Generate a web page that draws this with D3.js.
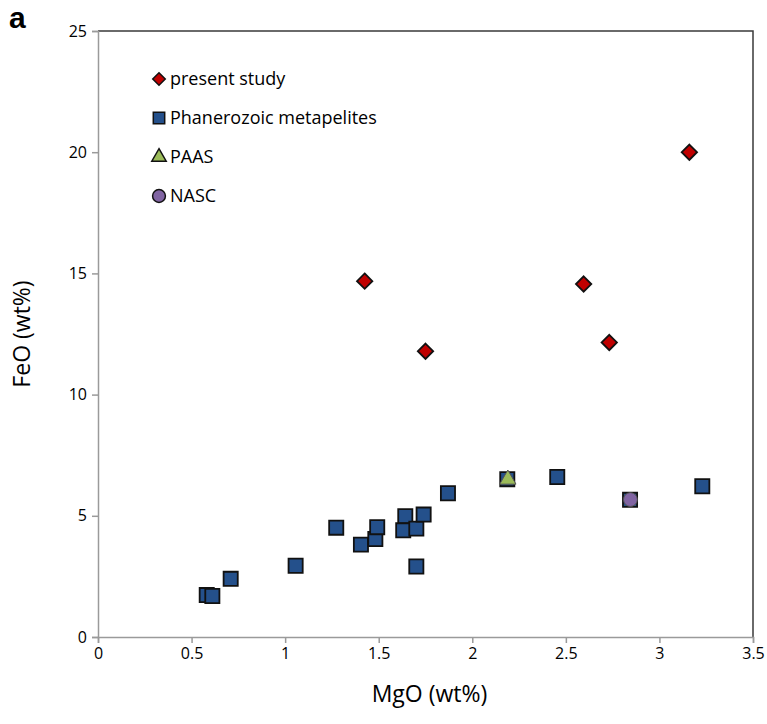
<!DOCTYPE html>
<html>
<head>
<meta charset="utf-8">
<script src="https://cdn.jsdelivr.net/npm/d3@7"></script>
<style>
  body { margin: 0; background: #fff; }
  svg text { font-family: "Open Sans", sans-serif; fill: #000; }
</style>
</head>
<body>
<div id="chart"></div>
<script>
// data
var studyMgO = [1.425, 1.75, 2.595, 2.732, 3.16];
var studyFeO = [14.68, 11.79, 14.56, 12.15, 20.0];

var phanMgO = [0.581, 0.611, 0.709, 1.056, 1.273, 1.405, 1.482, 1.492, 1.642, 1.631, 1.701, 1.740, 1.701, 1.870, 2.187, 2.454, 2.843, 3.229];
var phanFeO = [1.73, 1.69, 2.40, 2.94, 4.51, 3.81, 4.04, 4.53, 4.98, 4.40, 4.47, 5.05, 2.91, 5.93, 6.51, 6.60, 5.66, 6.22];

var paasMgO = [2.19];
var paasFeO = [6.5];
var nascMgO = [2.845];
var nascFeO = [5.67];

var xTicks = [0, 0.5, 1, 1.5, 2, 2.5, 3, 3.5];
var yTicks = [0, 5, 10, 15, 20, 25];
var legendLabels = ['present study', 'Phanerozoic metapelites', 'PAAS', 'NASC'];

(function () {
  var width = 767, height = 724;
  var plotLeft = 98, plotRight = 753, plotTop = 31, plotBottom = 637;

  var svg = d3.select('#chart').append('svg')
    .attr('width', width)
    .attr('height', height);

  var x = d3.scaleLinear().domain([0, 3.5]).range([plotLeft, plotRight]);
  var y = d3.scaleLinear().domain([0, 25]).range([plotBottom, plotTop]);

  // frame: dark top/right
  svg.append('path')
    .attr('d', 'M' + plotLeft + ',' + plotTop + 'H' + plotRight + 'V' + plotBottom)
    .attr('fill', 'none')
    .attr('stroke', '#3a3a3a')
    .attr('stroke-width', 1.5);

  var xAxis = svg.append('g')
    .attr('transform', 'translate(0,' + plotBottom + ')')
    .call(d3.axisBottom(x).tickValues(xTicks).tickSize(6).tickPadding(5).tickFormat(d3.format('')));

  var yAxis = svg.append('g')
    .attr('transform', 'translate(' + plotLeft + ',0)')
    .call(d3.axisLeft(y).tickValues(yTicks).tickSize(6).tickPadding(5));

  [xAxis, yAxis].forEach(function (g) {
    g.select('.domain').attr('stroke', '#9a9a9a').attr('stroke-width', 1.5);
    g.selectAll('.tick line').attr('stroke', '#9a9a9a').attr('stroke-width', 1.5);
    g.selectAll('.tick text').style('font-size', '16px').attr('fill', '#000');
  });

  svg.append('text')
    .attr('x', (plotLeft + plotRight) / 2 + 4)
    .attr('y', 702)
    .attr('text-anchor', 'middle')
    .style('font-size', '23px')
    .text('MgO (wt%)');

  svg.append('text')
    .attr('transform', 'translate(30,' + ((plotTop + plotBottom) / 2) + ') rotate(-90)')
    .attr('text-anchor', 'middle')
    .style('font-size', '23px')
    .text('FeO (wt%)');

  svg.append('text')
    .attr('x', 9)
    .attr('y', 28)
    .style('font-size', '30px')
    .style('font-weight', 'bold')
    .style('font-family', 'Liberation Sans, Arial, sans-serif')
    .text('a');

  var zip = function (xs, ys) {
    return xs.map(function (v, i) { return [v, ys[i]]; });
  };

  var symbols = [
    { type: d3.symbolDiamond2, size: 150, fill: '#c00000', mgo: studyMgO, feo: studyFeO },
    { type: d3.symbolSquare, size: 200, fill: '#24508b', mgo: phanMgO, feo: phanFeO },
    { type: d3.symbolTriangle, size: 115, fill: '#9bbb59', mgo: paasMgO, feo: paasFeO },
    { type: d3.symbolCircle, size: 150, fill: '#8064a2', mgo: nascMgO, feo: nascFeO }
  ];

  // draw squares first so others sit on top
  [1, 0, 2, 3].forEach(function (k) {
    var s = symbols[k];
    svg.append('g').selectAll('path')
      .data(zip(s.mgo, s.feo))
      .enter()
      .append('path')
      .attr('transform', function (d) { return 'translate(' + x(d[0]) + ',' + y(d[1]) + ')'; })
      .attr('d', d3.symbol().type(s.type).size(s.size))
      .attr('fill', s.fill)
      .attr('stroke', k >= 2 ? '#555' : '#111')
      .attr('stroke-width', k >= 2 ? 1 : 1.8);
  });

  // legend
  var legendSizes = [100, 130, 90, 130];
  var legend = svg.append('g').attr('transform', 'translate(159,79)');
  legendLabels.forEach(function (label, i) {
    var row = legend.append('g').attr('transform', 'translate(0,' + (i * 39) + ')');
    row.append('path')
      .attr('d', d3.symbol().type(symbols[i].type).size(legendSizes[i]))
      .attr('fill', symbols[i].fill)
      .attr('stroke', '#111')
      .attr('stroke-width', 1.5);
    row.append('text')
      .attr('x', 11)
      .attr('y', 6)
      .style('font-size', '18px')
      .text(label);
  });
})();
</script>
</body>
</html>
